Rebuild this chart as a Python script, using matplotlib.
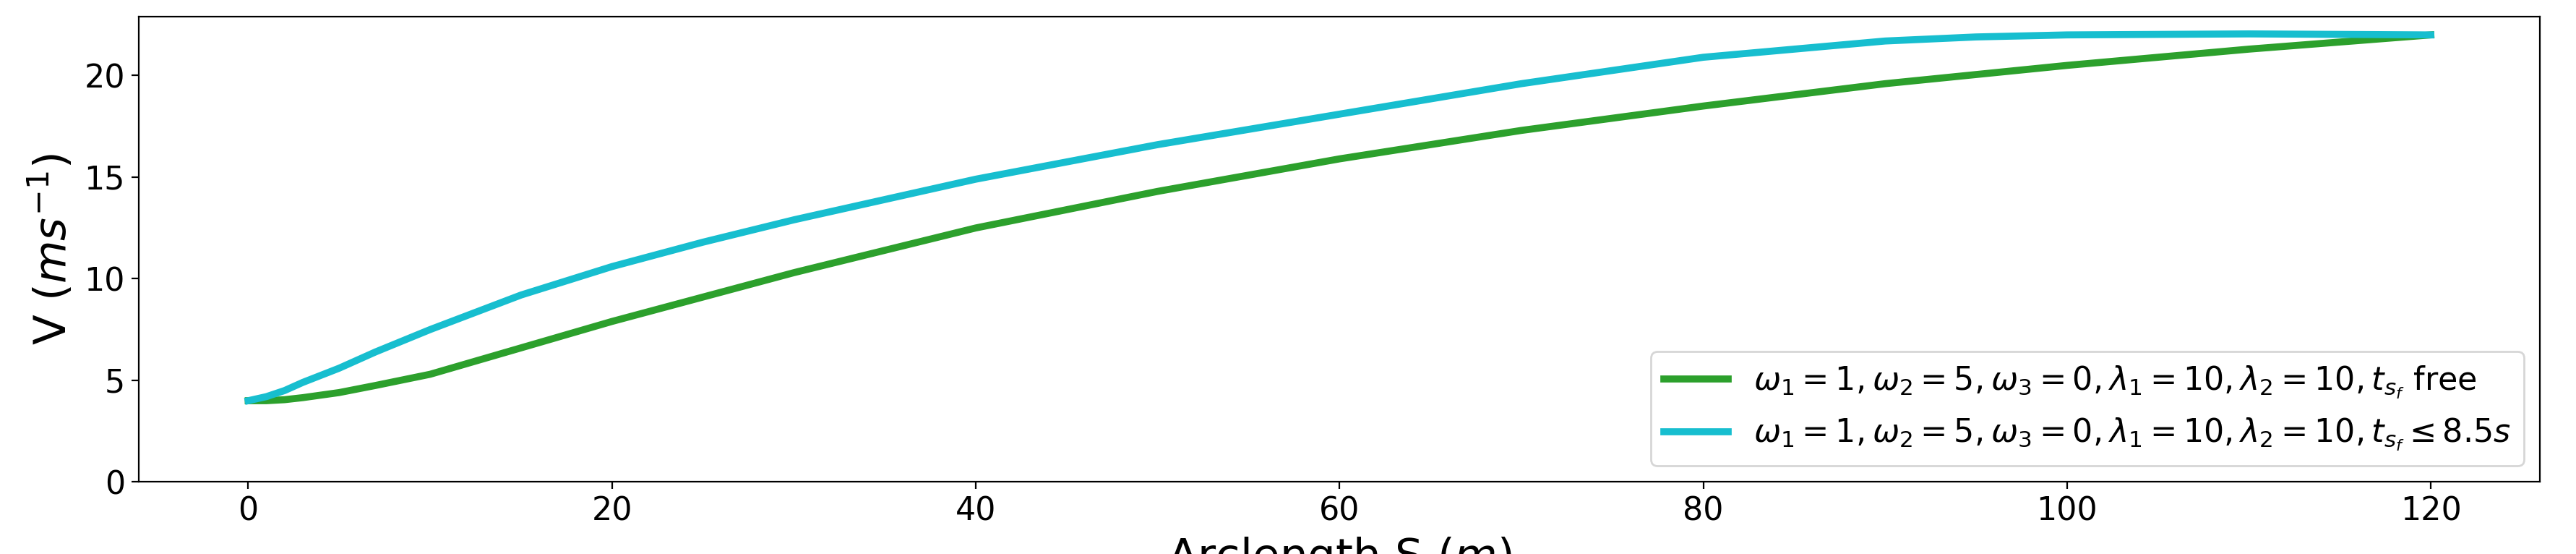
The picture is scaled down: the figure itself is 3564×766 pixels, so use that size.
import matplotlib.pyplot as plt

# values
s_green = [0, 1, 2, 3, 5, 7, 10, 15, 20, 25, 30, 40, 50, 60, 70, 80, 90, 100, 110, 120]
v_green = [4.0, 4.0, 4.05, 4.15, 4.4, 4.75, 5.3, 6.6, 7.9, 9.1, 10.3, 12.5, 14.3, 15.9, 17.3, 18.5, 19.6, 20.5, 21.3, 22.0]
s_cyan = [0, 1, 2, 3, 5, 7, 10, 15, 20, 25, 30, 40, 50, 60, 70, 80, 85, 90, 95, 100, 110, 120]
v_cyan = [4.0, 4.2, 4.5, 4.9, 5.6, 6.4, 7.5, 9.2, 10.6, 11.8, 12.9, 14.9, 16.6, 18.1, 19.6, 20.9, 21.3, 21.7, 21.9, 22.0, 22.05, 22.0]

labels = [r'$\omega_1=1, \omega_2=5, \omega_3=0, \lambda_1=10, \lambda_2=10, t_{s_f}$ free',
          r'$\omega_1=1, \omega_2=5, \omega_3=0, \lambda_1=10, \lambda_2=10, t_{s_f} \leq 8.5s$']

fig, ax = plt.subplots(figsize=(17.82, 3.83), dpi=200)
ax.plot(s_green, v_green, color='tab:green', lw=3.5, label=labels[0])
ax.plot(s_cyan, v_cyan, color='tab:cyan', lw=3.5, label=labels[1])

ax.set_ylim(0, 22.9)
ax.set_xlabel('Arclength S ($m$)', fontsize=22)
ax.set_ylabel('V ($ms^{-1}$)', fontsize=22)
ax.tick_params(labelsize=16)
ax.legend(loc='lower right', fontsize=16)

fig.subplots_adjust(left=0.054, right=0.986, top=0.97, bottom=0.13)
fig.savefig('out.png')
